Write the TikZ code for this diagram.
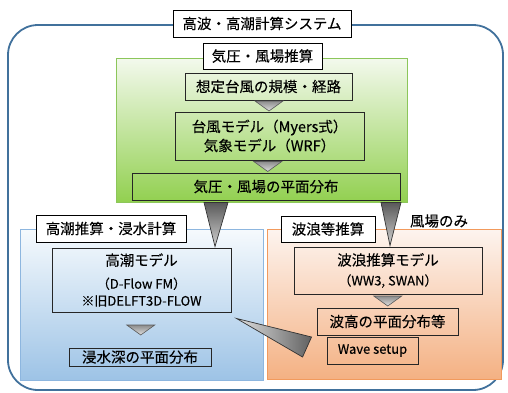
\documentclass[tikz,border=0pt]{standalone}
\usepackage{fontspec}
\setmainfont{Noto Sans CJK JP}[FakeBold=0.2]
\usepackage{tikz}
\usepackage{xcolor}
\usetikzlibrary{calc}
\definecolor{sysline}{HTML}{41719C}
\definecolor{ink}{HTML}{262626}
\definecolor{windtop}{HTML}{F3F9ED}
\definecolor{windbot}{HTML}{92D050}
\definecolor{windline}{HTML}{8CC65A}
\definecolor{surgetop}{HTML}{F6FAFD}
\definecolor{surgebot}{HTML}{9DC3E6}
\definecolor{surgeline}{HTML}{8DB6DF}
\definecolor{wavetop}{HTML}{FDF4EF}
\definecolor{wavebot}{HTML}{F4B183}
\definecolor{waveline}{HTML}{F29A5C}
\newcommand{\jpmain}{\fontsize{14.5pt}{19pt}\selectfont}
\newcommand{\jpsmall}{\fontsize{13pt}{16pt}\selectfont}
\tikzset{
  panel/.style={draw, line width=0.9pt, inner sep=0pt},
  tag/.style={draw=black, fill=white, line width=0.8pt, inner sep=0pt, font=\jpmain},
  stepbox/.style={draw=ink, line width=0.9pt, inner sep=0pt, align=center, font=\jpmain},
  smalltri/.style={draw=black!65, line width=0.6pt, top color=black!45, bottom color=black!12},
  bigtri/.style={draw=black!80, line width=0.7pt, top color=black!65, bottom color=black!18},
  sidetri/.style={draw=black!80, line width=0.7pt, left color=black!12, right color=black!62}
}

\begin{document}
\begin{tikzpicture}[x=1pt,y=-1pt]
        \useasboundingbox (0,0) rectangle (508,392);

        % whole system
        \node[draw=sysline, line width=1.8pt, rounded corners=30pt,
              minimum width=495, minimum height=365] (system) at (255.5,207.5) {};
        \node[tag, minimum width=178, minimum height=27] (title) at (262,23.5) {高波・高潮計算システム};

        % pressure and wind field
        \node[panel, draw=windline, top color=windtop, bottom color=windbot,
              minimum width=291, minimum height=144] (wind) at (261.5,130) {};
        \node[tag, minimum width=119, minimum height=26] (windtag) at (262.5,56) {気圧・風場推算};
        \node[stepbox, minimum width=167, minimum height=27] (scale) at (268.5,86.5) {想定台風の規模・経路};
        \node[stepbox, minimum width=189, minimum height=48] (typhoon) at (269.5,136)
          {台風モデル（Myers式）\\気象モデル（WRF）};
        \node[stepbox, minimum width=268, minimum height=27] (field) at (266,186.5) {気圧・風場の平面分布};

        % storm surge and inundation
        \node[panel, draw=surgeline, top color=surgetop, bottom color=surgebot,
              minimum width=243, minimum height=151] (surge) at (141.5,304.5) {};
        \node[tag, minimum width=150, minimum height=27] (surgetag) at (111,228.5) {高潮推算・浸水計算};
        \node[stepbox, minimum width=179, minimum height=64] (surgemodel) at (141.5,280)
          {高潮モデル\\[4pt]{\jpsmall （D-Flow FM）}\\[-2pt]{\jpsmall ※旧DELFT3D-FLOW}};
        \node[stepbox, minimum width=142, minimum height=18] (inund) at (140,357) {浸水深の平面分布};

        % waves
        \node[panel, draw=waveline, top color=wavetop, bottom color=wavebot,
              minimum width=234, minimum height=150] (wave) at (384,304) {};
        \node[tag, minimum width=94, minimum height=26] (wavetag) at (328,229) {波浪等推算};
        \node[font=\jpmain] (windonly) at (439,221) {風場のみ};
        \node[stepbox, minimum width=188, minimum height=47] (wavemodel) at (388,270.5)
          {波浪推算モデル\\[1pt]{\jpsmall （WW3, SWAN）}};
        \node[stepbox, minimum width=141, minimum height=27] (waveh) at (387.5,321.5) {波高の平面分布等};
        \node[stepbox, minimum width=91, minimum height=27, font=\fontsize{13pt}{16pt}\selectfont]
          (setup) at (372.5,350.5) {Wave setup};

        % small arrows between steps
        \foreach \a/\b in {scale/typhoon,typhoon/field,surgemodel/inund,wavemodel/waveh} {
          \coordinate (mid) at ($(\a.south)!0.5!(\b.north)$);
          \draw[smalltri] ($(mid)+(-14,-5)$) -- ($(mid)+(14,-5)$) -- ($(mid)+(0,5)$) -- cycle;
        }

        % field to both models
        \draw[bigtri] ($(wind.south)+(-57.5,0)$) -- ($(wind.south)+(-33.5,0)$) -- ($(surgemodel.north)+(73.5,-1)$) -- cycle;
        \draw[bigtri] ($(wind.south)+(119.5,0)$) -- ($(wind.south)+(139.5,0)$) -- ($(wavemodel.north)+(2,-1)$) -- cycle;

        % wave setup back to surge
        \draw[sidetri] ($(surgemodel.south east)+(5,6)$) -- ($(setup.west)+(-15,-13.5)$) -- ($(setup.west)+(-24,6.5)$) -- cycle;
      \end{tikzpicture}
\end{document}
